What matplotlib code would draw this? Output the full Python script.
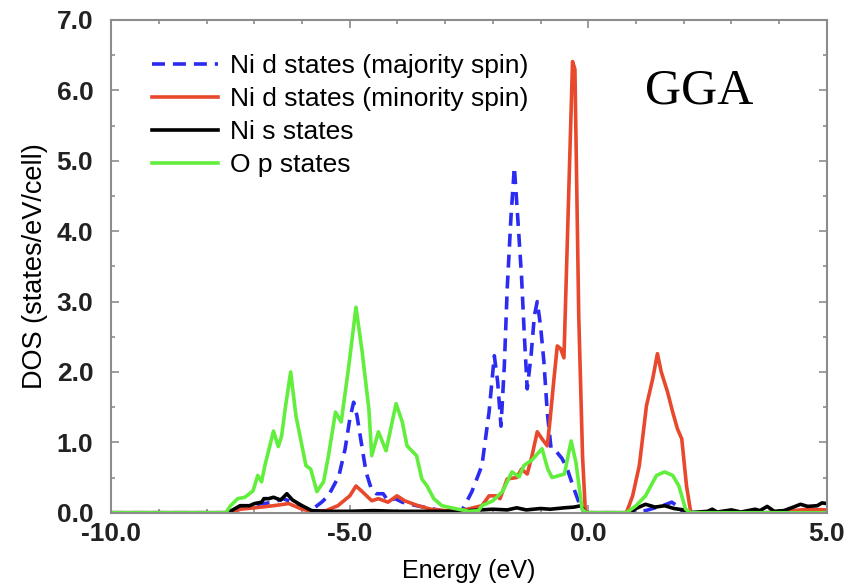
import numpy as np
import matplotlib
matplotlib.use('Agg')
import matplotlib.pyplot as plt
from matplotlib.ticker import MultipleLocator, FormatStrFormatter

# ==========================
#      NiO DOS (GGA)
# ==========================

# Ni d, majority spin
e_up = [-10.0, -7.5, -7.2, -6.9, -6.6, -6.4, -6.2, -6.0, -5.8, -5.59, -5.45,
        -5.23, -5.1, -5.0, -4.92, -4.85, -4.76, -4.66, -4.55, -4.44, -4.3,
        -4.2, -4.05, -3.9, -3.6, -3.3, -3.0, -2.65, -2.44, -2.23, -2.08,
        -1.97, -1.9, -1.83, -1.76, -1.7, -1.62, -1.55, -1.48, -1.4, -1.34,
        -1.28, -1.2, -1.13, -1.07, -1.0, -0.93, -0.86, -0.78, -0.67, -0.55,
        -0.44, -0.3, -0.15, -0.05, 0.8, 1.2, 1.45, 1.56, 1.75, 1.9, 2.0, 5.0]
dos_up = [0.0, 0.0, 0.08, 0.12, 0.15, 0.2, 0.15, 0.08, 0.04, 0.15, 0.24,
          0.52, 0.9, 1.33, 1.57, 1.38, 1.0, 0.58, 0.34, 0.27, 0.27,
          0.17, 0.2, 0.15, 0.1, 0.06, 0.02, 0.03, 0.3, 0.67, 1.43,
          2.23, 1.86, 1.23, 2.09, 3.18, 4.21, 4.91, 4.2, 3.36, 2.51,
          1.76, 2.23, 2.8, 3.0, 2.65, 2.14, 1.43, 0.91, 0.87, 0.77,
          0.62, 0.34, 0.06, 0.0, 0.0, 0.03, 0.08, 0.1, 0.15, 0.08, 0.0, 0.0]

# Ni d, minority spin
e_dn = [-10.0, -7.5, -7.3, -7.0, -6.6, -6.28, -6.0, -5.8, -5.5, -5.25, -5.0,
        -4.87, -4.74, -4.54, -4.4, -4.2, -4.01, -3.85, -3.57, -3.3, -3.0,
        -2.6, -2.23, -2.08, -1.93, -1.85, -1.7, -1.5, -1.4, -1.28, -1.18,
        -1.07, -0.97, -0.86, -0.8, -0.72, -0.65, -0.58, -0.51, -0.33, -0.28,
        -0.2, -0.12, -0.06, 0.8, 0.93, 1.07, 1.22, 1.35, 1.45, 1.53, 1.66,
        1.77, 1.87, 1.96, 2.06, 2.15, 3.7, 4.3, 4.6, 5.0]
dos_dn = [0.0, 0.0, 0.05, 0.07, 0.1, 0.13, 0.05, 0.02, 0.03, 0.1, 0.24,
          0.38, 0.3, 0.17, 0.2, 0.15, 0.24, 0.17, 0.1, 0.05, 0.03,
          0.04, 0.1, 0.24, 0.24, 0.2, 0.48, 0.5, 0.62, 0.55, 0.81,
          1.15, 1.05, 0.95, 1.33, 1.9, 2.37, 2.33, 2.2, 6.41, 6.3,
          2.8, 0.8, 0.0, 0.0, 0.24, 0.67, 1.52, 1.9, 2.26, 2.0, 1.72,
          1.43, 1.19, 1.05, 0.38, 0.0, 0.0, 0.03, 0.05, 0.04]

# Ni s
e_s = [-10.0, -7.6, -7.48, -7.3, -7.1, -7.0, -6.85, -6.8, -6.7, -6.6, -6.45,
       -6.32, -6.2, -6.0, -5.8, -5.5, -5.0, -4.5, -4.0, -3.5, -3.0, -2.5,
       -2.0, -1.7, -1.5, -1.3, -1.0, -0.8, -0.5, -0.3, -0.15, -0.07, 0.85,
       1.0, 1.2, 1.4, 1.6, 1.8, 2.0, 2.1, 2.5, 2.6, 2.7, 3.0, 3.2, 3.5, 3.6,
       3.75, 3.9, 4.1, 4.3, 4.45, 4.6, 4.8, 4.9, 5.0]
dos_s = [0.0, 0.0, 0.03, 0.1, 0.1, 0.13, 0.15, 0.2, 0.2, 0.22, 0.18,
         0.27, 0.18, 0.1, 0.03, 0.02, 0.02, 0.03, 0.02, 0.02, 0.02, 0.03,
         0.05, 0.04, 0.07, 0.04, 0.06, 0.05, 0.07, 0.08, 0.1, 0.0, 0.0,
         0.06, 0.12, 0.08, 0.1, 0.06, 0.04, 0.0, 0.02, 0.05, 0.01, 0.04, 0.01, 0.05, 0.03,
         0.09, 0.02, 0.03, 0.08, 0.12, 0.09, 0.1, 0.14, 0.13]

# O p
e_op = [-10.0, -7.6, -7.5, -7.35, -7.2, -7.03, -6.93, -6.85, -6.78, -6.6,
        -6.5, -6.43, -6.35, -6.24, -6.13, -5.92, -5.82, -5.69, -5.55, -5.45,
        -5.3, -5.18, -5.03, -4.87, -4.74, -4.6, -4.54, -4.4, -4.24, -4.03,
        -3.9, -3.8, -3.6, -3.49, -3.38, -3.24, -3.07, -2.8, -2.5, -2.3,
        -2.23, -2.0, -1.8, -1.6, -1.45, -1.35, -1.18, -0.97, -0.85, -0.76,
        -0.6, -0.5, -0.36, -0.26, -0.13, -0.05, 0.8, 1.0, 1.2, 1.43, 1.6,
        1.77, 1.9, 2.04, 2.15, 5.0]
dos_op = [0.0, 0.0, 0.1, 0.2, 0.22, 0.31, 0.53, 0.44, 0.67, 1.16,
          0.94, 1.09, 1.5, 2.0, 1.38, 0.67, 0.62, 0.3, 0.44, 0.8,
          1.43, 1.29, 2.04, 2.92, 2.28, 1.47, 0.81, 1.15, 0.88, 1.55,
          1.29, 0.95, 0.81, 0.48, 0.38, 0.2, 0.1, 0.06, 0.02, 0.03,
          0.1, 0.17, 0.3, 0.58, 0.51, 0.67, 0.75, 0.91, 0.62, 0.5,
          0.53, 0.55, 1.02, 0.72, 0.05, 0.0, 0.0, 0.1, 0.24, 0.53, 0.58,
          0.53, 0.38, 0.05, 0.0, 0.0]

labels = ['Ni d states (majority spin)', 'Ni d states (minority spin)',
          'Ni s states', 'O p states']

# ==========================
#        Plotting
# ==========================
plt.rcParams['font.family'] = ['Liberation Sans', 'DejaVu Sans']

fig = plt.figure(figsize=(8.63, 5.88), dpi=100)
ax = fig.add_axes([0.129, 0.128, 0.829, 0.838])

lw = 2.6
ax.plot(e_up, dos_up, color='#2b2bf2', lw=lw, dashes=(3.6, 2.2), label=labels[0])
ax.plot(e_dn, dos_dn, color='#e8482c', lw=lw, label=labels[1])
ax.plot(e_s, dos_s, color='black', lw=lw, label=labels[2])
ax.plot(e_op, dos_op, color='#62ee3c', lw=lw, label=labels[3])

ax.set_xlim(-10, 5)
ax.set_ylim(0, 7)
ax.xaxis.set_major_locator(MultipleLocator(5))
ax.xaxis.set_minor_locator(MultipleLocator(1))
ax.yaxis.set_major_locator(MultipleLocator(1))
ax.yaxis.set_minor_locator(MultipleLocator(0.5))
ax.xaxis.set_major_formatter(FormatStrFormatter('%.1f'))
ax.yaxis.set_major_formatter(FormatStrFormatter('%.1f'))

for s in ax.spines.values():
    s.set_color('#8c8c8c')
    s.set_linewidth(1.5)
ax.tick_params(which='both', direction='in', top=True, right=True,
               color='#8c8c8c', width=1.2, labelsize=19)
ax.tick_params(which='major', length=6)
ax.tick_params(which='minor', length=3)
ax.tick_params(axis='x', pad=7)
ax.tick_params(axis='y', pad=13)
for t in ax.get_xticklabels() + ax.get_yticklabels():
    t.set_fontweight('bold')
    t.set_color('#222222')

ax.set_xlabel('Energy (eV)', fontsize=18, labelpad=9)
ax.set_ylabel('DOS (states/eV/cell)', fontsize=19.5, labelpad=6)

ax.text(0.821, 0.855, 'GGA', transform=ax.transAxes, fontsize=36,
        family='Liberation Serif', ha='center', va='center')

leg = ax.legend(loc='upper left', bbox_to_anchor=(0.042, 0.952), frameon=False,
                fontsize=19, handlelength=2.5, handletextpad=0.45,
                labelspacing=0.34, borderaxespad=0)

plt.savefig('out.png', dpi=100)
